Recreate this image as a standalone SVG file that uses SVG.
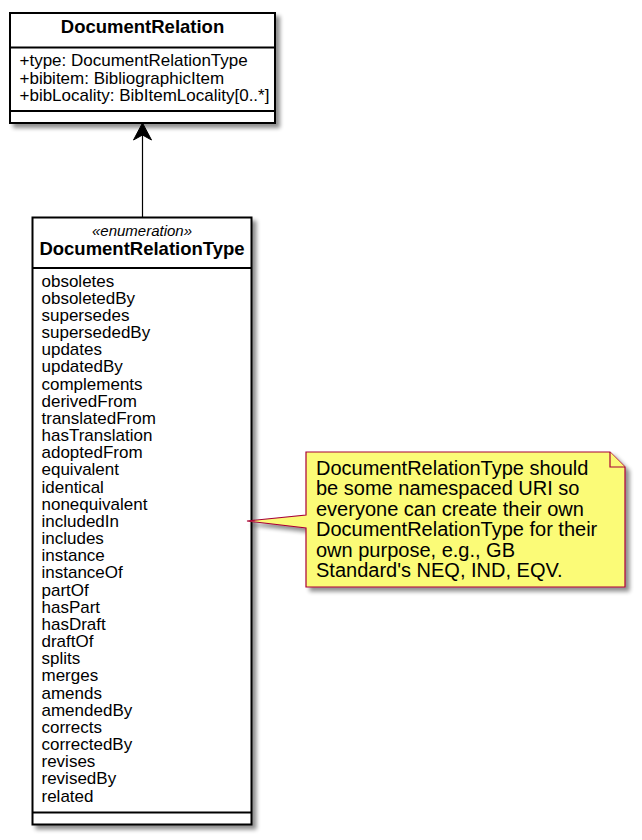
<svg xmlns="http://www.w3.org/2000/svg" width="642" height="840" viewBox="0 0 642 840">
<defs>
<filter id="sh" x="-10%" y="-10%" width="130%" height="130%">
<feGaussianBlur in="SourceAlpha" stdDeviation="2"/>
<feOffset dx="4" dy="4" result="b"/>
<feComponentTransfer><feFuncA type="linear" slope="0.45"/></feComponentTransfer>
<feMerge><feMergeNode/><feMergeNode in="SourceGraphic"/></feMerge>
</filter>
<style>
.box{fill:#ffffff;stroke:#000000;stroke-width:2}
.div{stroke:#000000;stroke-width:2}
.title{font-family:"Liberation Sans",Arial,sans-serif;font-weight:bold;font-size:18.5px;fill:#000;text-anchor:middle}
.ster{font-family:"Liberation Sans",Arial,sans-serif;font-style:italic;font-size:15px;fill:#000;text-anchor:middle}
.attr{font-family:"Liberation Sans",Arial,sans-serif;font-size:17px;fill:#000}
.note{fill:#FBFB77;stroke:#A80036;stroke-width:1.2}
.ntxt{font-family:"Liberation Sans",Arial,sans-serif;font-size:20px;fill:#000}
</style>
</defs>
<rect width="642" height="840" fill="#ffffff"/>

<g id="DocumentRelation">
<rect class="box" x="10" y="13" width="265" height="110" filter="url(#sh)"/>
<line class="div" x1="10" y1="47.5" x2="275" y2="47.5"/>
<line class="div" x1="10" y1="111" x2="275" y2="111"/>
<text class="title" x="142.5" y="33">DocumentRelation</text>
<text class="attr" x="19.5" y="66.3">+type: DocumentRelationType</text>
<text class="attr" x="19.5" y="83.5">+bibitem: BibliographicItem</text>
<text class="attr" x="19.5" y="100.7">+bibLocality: BibItemLocality[0..*]</text>
</g>

<g id="DocumentRelationType">
<rect class="box" x="32.5" y="217.5" width="219" height="607" filter="url(#sh)"/>
<line class="div" x1="32.5" y1="268" x2="251.5" y2="268"/>
<line class="div" x1="32.5" y1="812.5" x2="251.5" y2="812.5"/>
<text class="ster" x="142" y="236">«enumeration»</text>
<text class="title" x="142" y="255">DocumentRelationType</text>
<g class="attr">
<text x="41.5" y="286.5">obsoletes</text>
<text x="41.5" y="303.7">obsoletedBy</text>
<text x="41.5" y="320.8">supersedes</text>
<text x="41.5" y="338">supersededBy</text>
<text x="41.5" y="355.2">updates</text>
<text x="41.5" y="372.4">updatedBy</text>
<text x="41.5" y="389.5">complements</text>
<text x="41.5" y="406.7">derivedFrom</text>
<text x="41.5" y="423.9">translatedFrom</text>
<text x="41.5" y="441">hasTranslation</text>
<text x="41.5" y="458.2">adoptedFrom</text>
<text x="41.5" y="475.4">equivalent</text>
<text x="41.5" y="492.5">identical</text>
<text x="41.5" y="509.7">nonequivalent</text>
<text x="41.5" y="526.9">includedIn</text>
<text x="41.5" y="544">includes</text>
<text x="41.5" y="561.2">instance</text>
<text x="41.5" y="578.4">instanceOf</text>
<text x="41.5" y="595.6">partOf</text>
<text x="41.5" y="612.7">hasPart</text>
<text x="41.5" y="629.9">hasDraft</text>
<text x="41.5" y="647.1">draftOf</text>
<text x="41.5" y="664.2">splits</text>
<text x="41.5" y="681.4">merges</text>
<text x="41.5" y="698.6">amends</text>
<text x="41.5" y="715.7">amendedBy</text>
<text x="41.5" y="732.9">corrects</text>
<text x="41.5" y="750.1">correctedBy</text>
<text x="41.5" y="767.2">revises</text>
<text x="41.5" y="784.4">revisedBy</text>
<text x="41.5" y="801.6">related</text>
</g>
</g>

<g id="note">
<path class="note" d="M306,452 L610,452 L625,467 L625,587 L306,587 L306,528 L247,521 L306,515 Z" filter="url(#sh)"/>
<path class="note" d="M610,452 L610,467 L625,467" fill="none"/>
<g class="ntxt">
<text x="316" y="475">DocumentRelationType should</text>
<text x="316" y="495.4">be some namespaced URI so</text>
<text x="316" y="515.8">everyone can create their own</text>
<text x="316" y="536.2">DocumentRelationType for their</text>
<text x="316" y="556.6">own purpose, e.g., GB</text>
<text x="316" y="577">Standard's NEQ, IND, EQV.</text>
</g>
</g>

<g id="connectors">
<line x1="142.5" y1="217" x2="142.5" y2="134" stroke="#000" stroke-width="1.2"/>
<path d="M142.5,123 L133.5,140 L142.5,135 L151.5,140 Z" fill="#000" stroke="#000" stroke-width="1"/>
</g>
</svg>
